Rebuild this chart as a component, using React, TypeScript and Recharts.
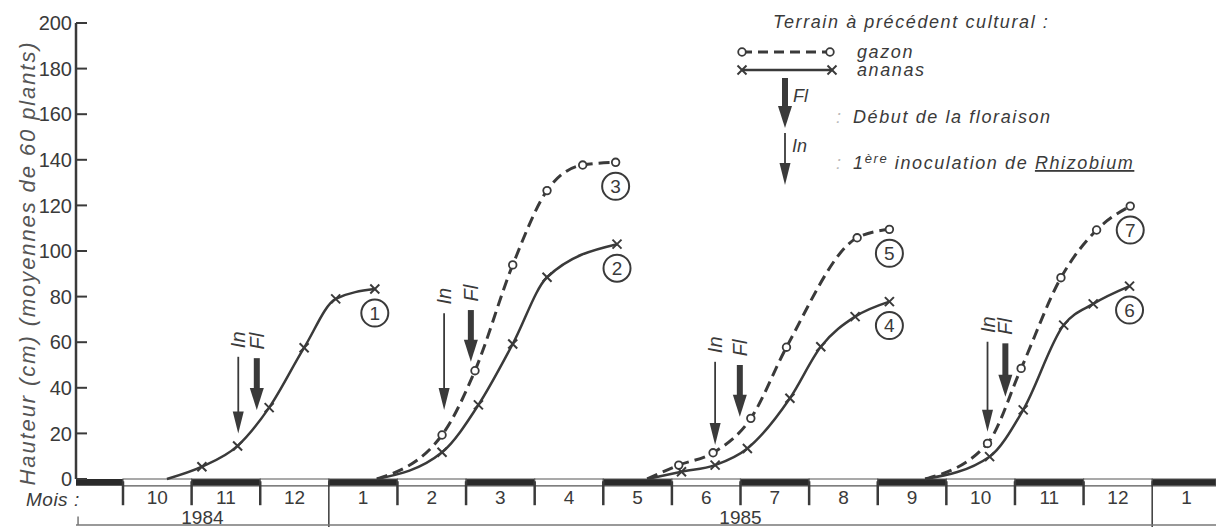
import React from 'react'
import {
    LineChart,
    Line,
    XAxis,
    YAxis,
    ReferenceArea,
    ReferenceLine
} from 'recharts'

// x is a month index: 0 = Oct 1984 ... 15 = Jan 1986 (month k spans k..k+1)
const monthLabels = ['10', '11', '12', '1', '2', '3', '4', '5', '6', '7', '8', '9', '10', '11', '12', '1']
const yTicks = [0, 20, 40, 60, 80, 100, 120, 140, 160, 180, 200]

// 1984 planting, ananas only
const curve1M = [0.64, 1.15, 1.67, 2.13, 2.64, 3.1, 3.67]
const curve1H = [0, 5.4, 14.5, 31.3, 57.6, 79, 83.3]

// early 1985 planting
const curve2M = [3.7, 4.65, 5.18, 5.68, 6.18, 7.2]
const curve2H = [0, 11.7, 32.5, 59.2, 88.5, 103]
const curve3M = [3.7, 4.65, 5.13, 5.68, 6.18, 6.7, 7.18]
const curve3H = [0, 19.3, 47.5, 93.9, 126.5, 137.7, 138.9]

// mid 1985 planting
const curve4M = [7.64, 8.14, 8.63, 9.1, 9.72, 10.17, 10.67, 11.17]
const curve4H = [0, 3.2, 6.1, 13.4, 35.4, 58, 71.2, 77.8]
const curve5M = [7.64, 8.1, 8.6, 9.15, 9.67, 10.7, 11.17]
const curve5H = [0, 6.1, 11.5, 26.6, 57.8, 105.8, 109.5]

// late 1985 planting
const curve6M = [11.69, 12.63, 13.12, 13.71, 14.14, 14.67]
const curve6H = [0, 9.8, 30.3, 67.5, 76.8, 84.6]
const curve7M = [11.69, 12.6, 13.09, 13.67, 14.19, 14.68]
const curve7H = [0, 15.6, 48.5, 88.3, 109.2, 119.7]

// arrows: month, top value, tip value
const inM = [1.68, 4.68, 8.63, 12.6]
const inTop = [53.6, 72.7, 51.4, 60.2]
const inTip = [20, 30.3, 14.9, 20.7]
const flM = [1.95, 5.07, 8.99, 12.86]
const flTop = [53, 74.1, 50, 59.5]
const flTip = [30.3, 51.4, 27.3, 36.1]

const X_MIN = -0.685
const X_MAX = 15.93
const FONT = '"Liberation Sans", Arial, Helvetica, sans-serif'
const INK = '#3a3a3a'

const toRows = (m: number[], h: number[]) => m.map((v, i) => ({ m: v, h: h[i] }))

const series = [
    { id: '1', kind: 'ananas', data: toRows(curve1M, curve1H) },
    { id: '2', kind: 'ananas', data: toRows(curve2M, curve2H) },
    { id: '3', kind: 'gazon', data: toRows(curve3M, curve3H) },
    { id: '4', kind: 'ananas', data: toRows(curve4M, curve4H) },
    { id: '5', kind: 'gazon', data: toRows(curve5M, curve5H) },
    { id: '6', kind: 'ananas', data: toRows(curve6M, curve6H) },
    { id: '7', kind: 'gazon', data: toRows(curve7M, curve7H) }
]

function Cross({ cx, cy }: { cx: number; cy: number }) {
    const s = 4.5
    return (
        <g stroke={INK} strokeWidth={2}>
            <line x1={cx - s} y1={cy - s} x2={cx + s} y2={cy + s} />
            <line x1={cx - s} y1={cy + s} x2={cx + s} y2={cy - s} />
        </g>
    )
}

function Ring({ cx, cy }: { cx: number; cy: number }) {
    return <circle cx={cx} cy={cy} r={3.8} fill="#fff" stroke={INK} strokeWidth={1.8} />
}

const makeDot = (kind: string) => (p: any) => {
    if (!p.payload || p.payload.h <= 0) return <g key={`d${p.index}`} />
    return (
        <g key={`d${p.index}`}>
            {kind === 'gazon' ? <Ring cx={p.cx} cy={p.cy} /> : <Cross cx={p.cx} cy={p.cy} />}
        </g>
    )
}

const makeEndLabel = (id: string, last: number) => (p: any) => {
    if (p.index !== last) return <g />
    const cx = p.x
    const cy = p.y + 24
    return (
        <g>
            <circle cx={cx} cy={cy} r={13.5} fill="#fff" stroke={INK} strokeWidth={2} />
            <text x={cx} y={cy} dy="0.36em" textAnchor="middle" fontSize={19} fontFamily={FONT} fill={INK}>
                {id}
            </text>
        </g>
    )
}

const arrowShape = (kind: string) => (p: any) => {
    const x = p.x1
    const top = Math.min(p.y1, p.y2)
    const tip = Math.max(p.y1, p.y2)
    const thick = kind === 'Fl'
    const head = 22
    const hw = thick ? 7 : 5.5
    return (
        <g>
            <line x1={x} x2={x} y1={top} y2={tip - head + 2} stroke={INK} strokeWidth={thick ? 6 : 1.8} />
            <polygon points={`${x - hw},${tip - head} ${x + hw},${tip - head} ${x},${tip}`} fill={INK} />
            <text
                transform={`translate(${x},${top - 17}) rotate(-90)`}
                textAnchor="middle"
                dy="0.35em"
                fontSize={20}
                fontStyle="italic"
                fontFamily={FONT}
                fill={INK}
            >
                {kind}
            </text>
        </g>
    )
}

const YTick = (p: any) => {
    const { x, y, payload } = p
    return (
        <g>
            <line x1={x + 4} x2={x + 15} y1={y} y2={y} stroke={INK} strokeWidth={2} />
            <text x={x} y={y} dy="0.36em" textAnchor="end" fontSize={20} fontFamily={FONT} fill={INK}>
                {payload.value}
            </text>
        </g>
    )
}

const YTitle = (p: any) => {
    const vb = p.viewBox || { x: 0, y: 23, width: 76, height: 456 }
    const cx = vb.x + 27
    const cy = vb.y + vb.height / 2 + 12
    return (
        <text
            transform={`translate(${cx},${cy}) rotate(-90)`}
            textAnchor="middle"
            dy="0.35em"
            fontSize={22}
            fontStyle="italic"
            letterSpacing={1.9}
            fontFamily={FONT}
            fill="#555"
        >
            Hauteur (cm) (moyennes de 60 plants)
        </text>
    )
}

function LegendOverlay() {
    const t = { fontFamily: FONT, fontStyle: 'italic' as const, fill: INK, fontSize: 18, letterSpacing: 1.6 }
    return (
        <svg
            width={1216}
            height={527}
            style={{ position: 'absolute', left: 0, top: 0, pointerEvents: 'none' }}
        >
            <text x={773} y={28} {...t}>Terrain à précédent cultural :</text>
            <line x1={742} x2={830} y1={52} y2={52} stroke={INK} strokeWidth={3} strokeDasharray="10 6" />
            <Ring cx={742} cy={52} />
            <Ring cx={830} cy={52} />
            <text x={857} y={58} {...t}>gazon</text>
            <line x1={742} x2={832} y1={70} y2={70} stroke={INK} strokeWidth={2.5} />
            <Cross cx={742} cy={70} />
            <Cross cx={832} cy={70} />
            <text x={857} y={76} {...t}>ananas</text>

            <line x1={785} x2={785} y1={78} y2={108} stroke={INK} strokeWidth={6} />
            <polygon points="778,106 792,106 785,128" fill={INK} />
            <text x={793} y={102} {...t} letterSpacing={0}>Fl</text>
            <text x={836} y={123} {...t} fill="#bbb">:</text>
            <text x={853} y={123} {...t}>Début de la floraison</text>

            <line x1={785} x2={785} y1={133} y2={165} stroke={INK} strokeWidth={1.8} />
            <polygon points="779.5,163 790.5,163 785,185" fill={INK} />
            <text x={792} y={152} {...t} letterSpacing={0}>In</text>
            <text x={836} y={169} {...t} fill="#bbb">:</text>
            <text x={853} y={169} {...t}>
                1<tspan dy={-6} fontSize={13}>ère</tspan>
                <tspan dy={6}> inoculation de </tspan>
                <tspan textDecoration="underline">Rhizobium</tspan>
            </text>

            <text x={26} y={506} {...t} fontSize={19} letterSpacing={0.5}>Mois :</text>
        </svg>
    )
}

const monthCenters = monthLabels.map((_, i) => i + 0.5)
const boundaries = monthLabels.map((_, i) => i)
const yearSpans = [
    { label: '1984', from: X_MIN, to: 3 },
    { label: '1985', from: 3, to: 15 }
]

export default function App() {
    return (
        <div style={{ position: 'absolute', left: 0, top: 0, width: 1216, height: 527, background: '#fff' }}>
            <LineChart width={1216} height={527} margin={{ top: 23, right: 0, bottom: 0, left: 0 }}>
                <XAxis
                    type="number"
                    dataKey="m"
                    domain={[X_MIN, X_MAX]}
                    allowDataOverflow
                    ticks={monthCenters}
                    tickFormatter={(v: number) => monthLabels[Math.round(v - 0.5)] ?? ''}
                    height={48}
                    axisLine={false}
                    tickLine={false}
                    tickSize={0}
                    tickMargin={12}
                    interval={0}
                    tick={{ fontSize: 19, fill: INK, fontFamily: FONT }}
                />
                <YAxis
                    type="number"
                    domain={[0, 200]}
                    ticks={yTicks}
                    width={76}
                    interval={0}
                    tickLine={false}
                    tickSize={0}
                    tickMargin={4}
                    axisLine={{ stroke: INK, strokeWidth: 2.5 }}
                    tick={<YTick />}
                    label={<YTitle />}
                />

                {/* month band under the plot */}
                <ReferenceArea x1={X_MIN} x2={0} y1={-3} y2={0} ifOverflow="visible" fill="#2a2a2a" fillOpacity={1} stroke="none" />
                {boundaries.map((k) => (
                    <ReferenceArea
                        key={`band${k}`}
                        x1={k}
                        x2={Math.min(k + 1, X_MAX)}
                        y1={-3}
                        y2={0}
                        ifOverflow="visible"
                        fill={k % 2 === 1 ? '#2a2a2a' : '#fff'}
                        fillOpacity={1}
                        stroke="#555"
                        strokeWidth={1.2}
                    />
                ))}
                {boundaries.map((k) => (
                    <ReferenceLine
                        key={`tick${k}`}
                        segment={[{ x: k, y: -1 }, { x: k, y: k === 3 || k === 15 ? -21 : -11.5 }]}
                        ifOverflow="visible"
                        stroke={INK}
                        strokeWidth={k === 3 || k === 15 ? 1.5 : 2.5}
                    />
                ))}
                <ReferenceLine
                    segment={[{ x: X_MIN, y: -20.2 }, { x: X_MAX, y: -20.2 }]}
                    ifOverflow="visible"
                    stroke="#777"
                    strokeWidth={1.5}
                />
                <ReferenceLine
                    segment={[{ x: X_MIN + 0.03, y: -16.5 }, { x: X_MIN + 0.03, y: -20.2 }]}
                    ifOverflow="visible"
                    stroke="#777"
                    strokeWidth={1.5}
                />
                {yearSpans.map((s) => (
                    <ReferenceArea
                        key={s.label}
                        x1={s.from}
                        x2={s.to}
                        y1={-22}
                        y2={-11.4}
                        ifOverflow="visible"
                        fill="none"
                        stroke="none"
                        label={{ value: s.label, position: 'center', fontSize: 19, fill: INK, fontFamily: FONT }}
                    />
                ))}

                {inM.map((m, i) => (
                    <ReferenceLine
                        key={`in${i}`}
                        segment={[{ x: m, y: inTop[i] }, { x: m, y: inTip[i] }]}
                        ifOverflow="visible"
                        shape={arrowShape('In')}
                    />
                ))}
                {flM.map((m, i) => (
                    <ReferenceLine
                        key={`fl${i}`}
                        segment={[{ x: m, y: flTop[i] }, { x: m, y: flTip[i] }]}
                        ifOverflow="visible"
                        shape={arrowShape('Fl')}
                    />
                ))}

                {series.map((s) => (
                    <Line
                        key={s.id}
                        data={s.data}
                        dataKey="h"
                        type="monotone"
                        stroke={INK}
                        strokeWidth={s.kind === 'gazon' ? 3 : 2.5}
                        strokeDasharray={s.kind === 'gazon' ? '11 6' : undefined}
                        dot={makeDot(s.kind)}
                        activeDot={false}
                        label={makeEndLabel(s.id, s.data.length - 1)}
                        isAnimationActive={false}
                    />
                ))}
            </LineChart>
            <LegendOverlay />
        </div>
    )
}
